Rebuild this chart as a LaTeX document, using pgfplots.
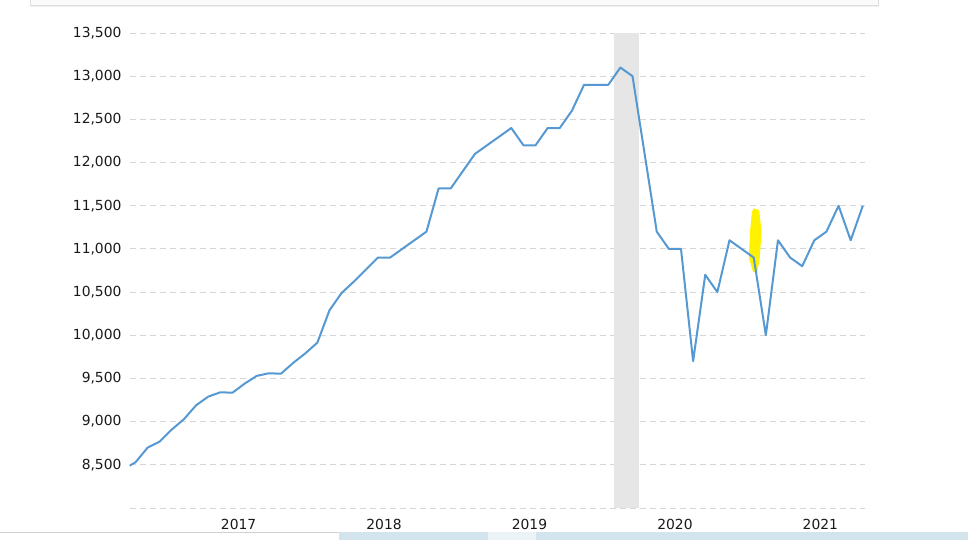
\documentclass[border=0pt]{standalone}
\usepackage{pgfplots}
\pgfplotsset{compat=1.18}
\usepackage{fontspec}
\setmainfont{DejaVu Sans}
\definecolor{lineblue}{HTML}{5699D2}
\definecolor{gridgray}{HTML}{D6D6D6}
\definecolor{bandgray}{HTML}{E6E6E6}
\definecolor{stripblue}{HTML}{D3E4EC}
\definecolor{framegray}{HTML}{DDDDDD}
\begin{document}
\begin{tikzpicture}[x=0.75pt,y=0.75pt]
\useasboundingbox (0,0) rectangle (968,540);
\begin{scope}
\clip (0,0) rectangle (968,540);
% cut-off panel at the top
\fill[black!2] (30,534) rectangle (878,545);
\draw[framegray, line width=0.75pt] (30,545) -- (30,534) -- (878,534) -- (878,545);
\draw[black!6, line width=0.75pt] (31,533) -- (879,533);
% strip at the bottom
\draw[black!18, line width=0.75pt] (0,8) -- (340,8);
\fill[stripblue] (339,0) rectangle (968,8);
\fill[stripblue!45] (488,0) rectangle (536,8);
\end{scope}
\begin{axis}[
  at={(97.125pt,24pt)}, anchor=south west,
  scale only axis, width=551.8pt, height=356.25pt,
  xmin=-0.5, xmax=60.2, ymin=8000, ymax=13500,
  axis line style={draw=none}, major tick length=0pt,
  scaled y ticks=false, scaled x ticks=false,
  ytick={8000,8500,9000,9500,10000,10500,11000,11500,12000,12500,13000,13500},
  yticklabels={,{8,500},{9,000},{9,500},{10,000},{10,500},{11,000},{11,500},{12,000},{12,500},{13,000},{13,500}},
  xtick={8.5,20.5,32.5,44.5,56.5},
  xticklabels={2017,2018,2019,2020,2021},
  ymajorgrids,
  grid style={gridgray, dash pattern=on 4.5pt off 3pt, line width=0.75pt},
  tick label style={font=\fontsize{10.4}{12}\selectfont, text=black!90},
  yticklabel style={xshift=-2.5pt},
  xticklabel style={yshift=-5pt},
]
% recession band
\addplot[fill=bandgray, draw=none] coordinates {(39.5,8000) (41.5,8000) (41.5,13500) (39.5,13500)} -- cycle;
% highlighter mark
\addplot[fill=yellow, draw=none] coordinates {(51.0,11470) (51.45,11450) (51.65,11200) (51.5,10900) (51.3,10730) (50.95,10730) (50.6,10900) (50.7,11200) (50.85,11430)} -- cycle;
% series
\addplot[lineblue, line width=1.5pt, line join=round] coordinates {
(-1,8450) (0,8530) (1,8700) (2,8770) (3,8910) (4,9030) (5,9190) (6,9290) (7,9340) (8,9335)
(9,9440) (10,9530) (11,9560) (12,9555) (13,9680) (14,9790) (15,9915) (16,10290) (17,10490) (18,10620)
(19,10760) (20,10900) (21,10900) (22,11000) (23,11100) (24,11200) (25,11700) (26,11700) (27,11900) (28,12100)
(29,12200) (30,12300) (31,12400) (32,12200) (33,12200) (34,12400) (35,12400) (36,12600) (37,12900) (38,12900)
(39,12900) (40,13100) (41,13000) (42,12100) (43,11200) (44,11000) (45,11000) (46,9700) (47,10700) (48,10500)
(49,11100) (50,11000) (51,10900) (52,10000) (53,11100) (54,10900) (55,10800) (56,11100) (57,11200) (58,11500)
(59,11100) (60,11500)
};
\end{axis}
\end{tikzpicture}
\end{document}
